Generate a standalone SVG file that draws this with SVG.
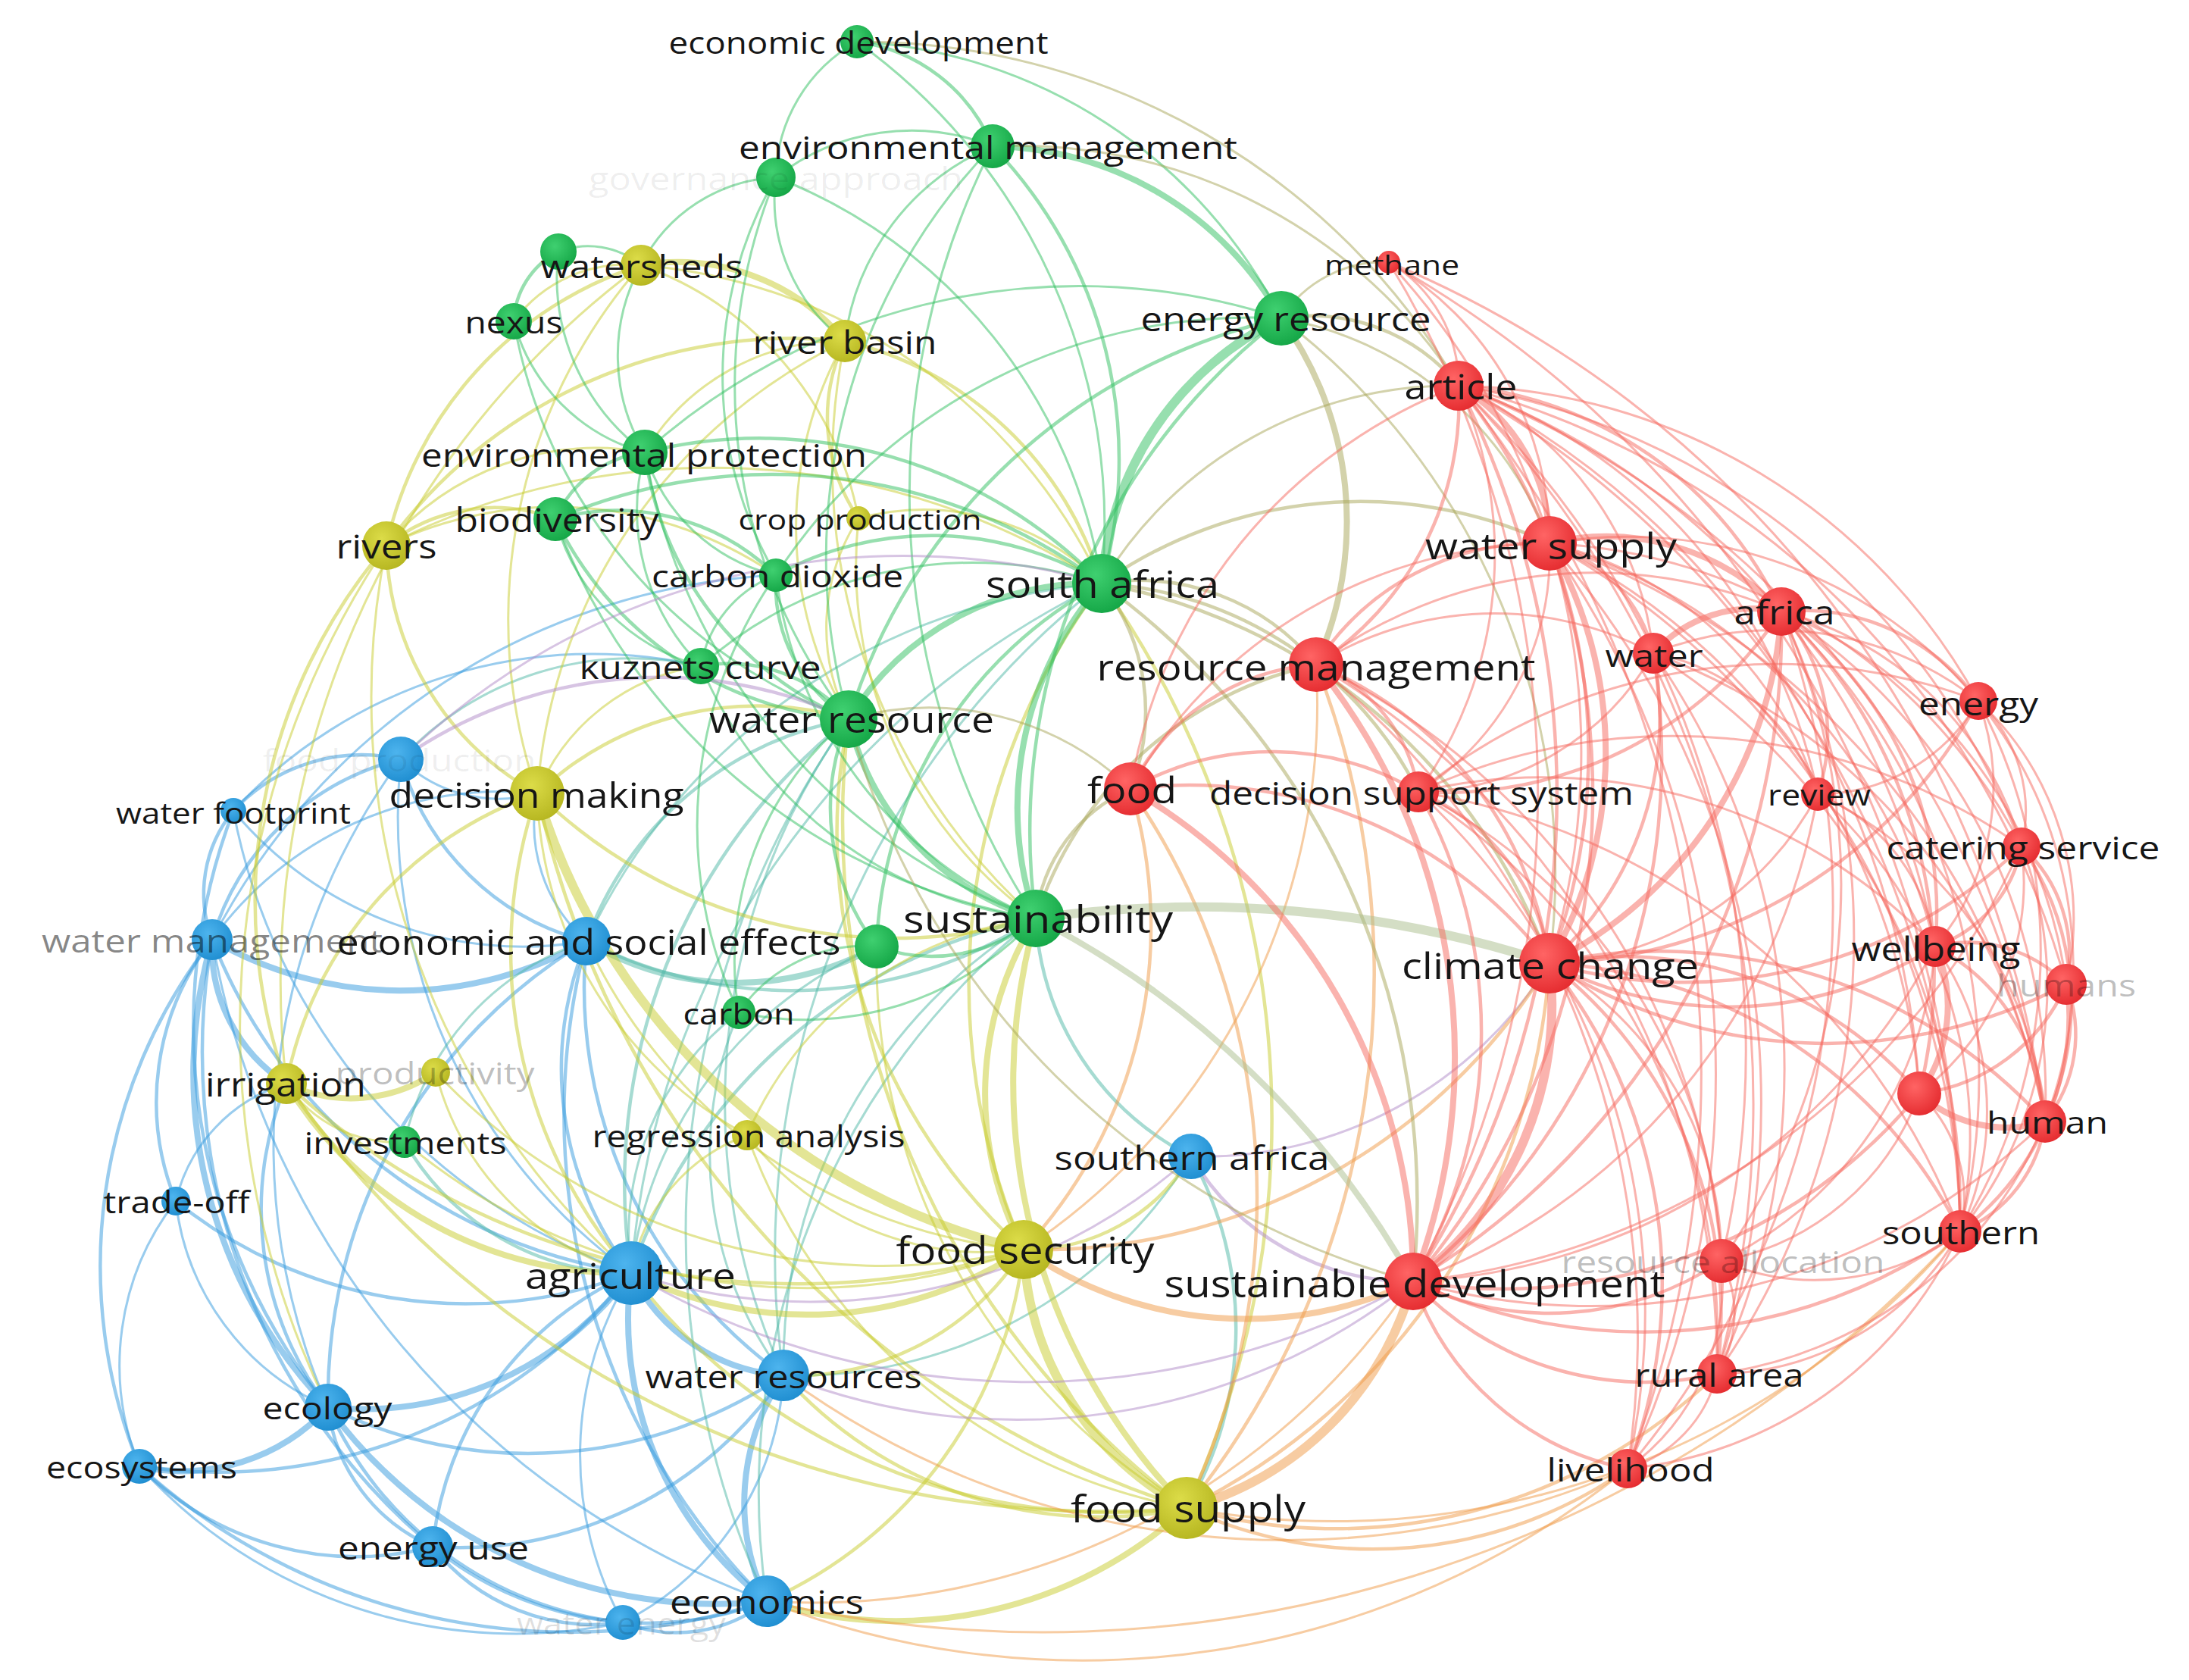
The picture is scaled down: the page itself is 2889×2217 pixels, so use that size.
<svg xmlns="http://www.w3.org/2000/svg" width="2889" height="2217" viewBox="0 0 2889 2217">
<defs>
<radialGradient id="gR" cx=".4" cy=".35" r=".7"><stop offset="0" stop-color="#ff6464"/><stop offset="1" stop-color="#e42a2e"/></radialGradient>
<radialGradient id="gG" cx=".4" cy=".35" r=".7"><stop offset="0" stop-color="#3fd070"/><stop offset="1" stop-color="#13a545"/></radialGradient>
<radialGradient id="gB" cx=".4" cy=".35" r=".7"><stop offset="0" stop-color="#4db4ee"/><stop offset="1" stop-color="#1e8dd0"/></radialGradient>
<radialGradient id="gY" cx=".4" cy=".35" r=".7"><stop offset="0" stop-color="#dcdc48"/><stop offset="1" stop-color="#b5b51f"/></radialGradient>
</defs>
<style>
#edges path{fill:none;stroke-linecap:round}
#edges g{stroke-opacity:.5}
.r{stroke:#f5675e}.m{stroke:#a8a557}.k{stroke:#a9bd8c}.o{stroke:#f09a45}.v{stroke:#b08ac8}.g{stroke:#2fbf5f}.y{stroke:#c8cc2c}.t{stroke:#4db8a5}.b{stroke:#3399dd}
.w1{stroke-width:3}.w2{stroke-width:4.5}.w3{stroke-width:8}.w4{stroke-width:12}
.nR{fill:url(#gR)}.nG{fill:url(#gG)}.nB{fill:url(#gB)}.nY{fill:url(#gY)}
text{font-family:"Open Sans","Noto Sans","DejaVu Sans",sans-serif;fill:#161616;text-anchor:middle;dominant-baseline:central}
.f1{fill:#000;fill-opacity:.07}.f2{fill:#000;fill-opacity:.48}.f3{fill:#000;fill-opacity:.27}.f4{fill:#000;fill-opacity:.13}
</style>
<rect width="2889" height="2217" fill="#fff"/>
<g id="edges">
<g class="b w1">
<path d="M774 1242A206 206 0 0 1 709 1047"/><path d="M280 1240A470 470 0 0 1 709 1047"/><path d="M709 1047A186 186 0 0 1 529 1002"/><path d="M232 1585A213 213 0 0 1 378 1430"/><path d="M833 1680A743 743 0 0 1 529 1002"/><path d="M433 1857A860 860 0 0 1 529 1002"/><path d="M833 1680A805 805 0 0 1 308 1070"/><path d="M774 1242A497 497 0 0 1 308 1070"/><path d="M1012 2113A1139 1139 0 0 1 280 1240"/><path d="M433 1857A338 338 0 0 1 232 1585"/><path d="M184 1935A353 353 0 0 1 232 1585"/><path d="M822 2141A461 461 0 0 1 833 1680"/><path d="M1034 1815A389 389 0 0 1 822 2141"/><path d="M822 2141A670 670 0 0 1 184 1935"/><path d="M280 1240A886 886 0 0 1 1024 759"/><path d="M308 1070A646 646 0 0 1 925 879"/>
</g>
<g class="b w2">
<path d="M433 1857A430 430 0 0 1 378 1430"/><path d="M308 1070A231 231 0 0 1 529 1002"/><path d="M280 1240A345 345 0 0 1 529 1002"/><path d="M774 1242A343 343 0 0 1 529 1002"/><path d="M280 1240A172 172 0 0 1 308 1070"/><path d="M433 1857A797 797 0 0 1 308 1070"/><path d="M833 1680A707 707 0 0 1 280 1240"/><path d="M232 1585A348 348 0 0 1 280 1240"/><path d="M184 1935A702 702 0 0 1 280 1240"/><path d="M571 2041A852 852 0 0 1 280 1240"/><path d="M833 1680A442 442 0 0 1 774 1242"/><path d="M1034 1815A629 629 0 0 1 774 1242"/><path d="M1012 2113A903 903 0 0 1 774 1242"/><path d="M433 1857A703 703 0 0 1 774 1242"/><path d="M833 1680A608 608 0 0 1 232 1585"/><path d="M833 1680A697 697 0 0 1 184 1935"/><path d="M571 2041A446 446 0 0 1 833 1680"/><path d="M1034 1815A602 602 0 0 1 433 1857"/><path d="M1034 1815A515 515 0 0 1 571 2041"/><path d="M571 2041A230 230 0 0 1 433 1857"/><path d="M822 2141A482 482 0 0 1 433 1857"/><path d="M571 2041A401 401 0 0 1 184 1935"/><path d="M1012 2113A847 847 0 0 1 184 1935"/><path d="M1012 2113A447 447 0 0 1 571 2041"/><path d="M822 2141A270 270 0 0 1 571 2041"/><path d="M1012 2113A192 192 0 0 1 822 2141"/>
</g>
<g class="b w3">
<path d="M378 1430A214 214 0 0 1 280 1240"/><path d="M774 1242A494 494 0 0 1 280 1240"/><path d="M433 1857A636 636 0 0 1 280 1240"/><path d="M1034 1815A242 242 0 0 1 833 1680"/><path d="M833 1680A437 437 0 0 1 433 1857"/><path d="M1012 2113A469 469 0 0 1 833 1680"/><path d="M1012 2113A299 299 0 0 1 1034 1815"/><path d="M433 1857A261 261 0 0 1 184 1935"/><path d="M1012 2113A633 633 0 0 1 433 1857"/>
</g>
<g class="t w1">
<path d="M529 1002A415 415 0 0 1 925 879"/><path d="M1034 1815A689 689 0 0 1 1367 1212"/><path d="M833 1680A539 539 0 0 1 1157 1249"/><path d="M1034 1815A483 483 0 0 1 975 1336"/><path d="M833 1680A372 372 0 0 1 975 1336"/><path d="M534 1507A358 358 0 0 1 774 1242"/><path d="M1572 1526A611 611 0 0 1 1034 1815"/><path d="M833 1680A1102 1102 0 0 1 1454 770"/><path d="M774 1242A828 828 0 0 1 1454 770"/><path d="M1034 1815A870 870 0 0 1 1120 949"/><path d="M1012 2113A1169 1169 0 0 1 1120 949"/><path d="M1034 1815A1126 1126 0 0 1 1454 770"/><path d="M1012 2113A968 968 0 0 1 1367 1212"/>
</g>
<g class="t w2">
<path d="M833 1680A785 785 0 0 1 1120 949"/><path d="M774 1242A453 453 0 0 1 1120 949"/><path d="M1572 1526A375 375 0 0 1 1367 1212"/><path d="M833 1680A710 710 0 0 1 1367 1212"/><path d="M1367 1212A594 594 0 0 1 774 1242"/><path d="M833 1680A345 345 0 0 1 534 1507"/><path d="M1572 1526A464 464 0 0 1 1566 1990"/>
</g>
<g class="t w3"><path d="M1157 1249A383 383 0 0 1 774 1242"/></g>
<g class="y w1">
<path d="M678 424A184 184 0 0 1 846 350"/><path d="M709 1047A710 710 0 0 1 846 350"/><path d="M846 350A739 739 0 0 1 1454 770"/><path d="M846 350A440 440 0 0 1 1133 684"/><path d="M851 597A302 302 0 0 1 1115 450"/><path d="M1367 1212A803 803 0 0 1 1115 450"/><path d="M1120 949A499 499 0 0 1 1115 450"/><path d="M709 1047A722 722 0 0 1 1115 450"/><path d="M510 720A362 362 0 0 1 851 597"/><path d="M1133 684A332 332 0 0 1 1454 770"/><path d="M1120 949A265 265 0 0 1 1133 684"/><path d="M1367 1212A577 577 0 0 1 1133 684"/><path d="M833 1680A1013 1013 0 0 1 510 720"/><path d="M510 720A945 945 0 0 1 1454 770"/><path d="M510 720A515 515 0 0 1 1024 759"/><path d="M709 1047A274 274 0 0 1 925 879"/><path d="M986 1498A476 476 0 0 1 1367 1212"/><path d="M1566 1990A846 846 0 0 1 1157 1249"/><path d="M534 1507A174 174 0 0 1 378 1430"/><path d="M1351 1649A829 829 0 0 1 534 1507"/><path d="M986 1498A530 530 0 0 1 709 1047"/><path d="M833 1680A370 370 0 0 1 575 1415"/><path d="M1351 1649A810 810 0 0 1 575 1415"/><path d="M833 1680A238 238 0 0 1 986 1498"/><path d="M1351 1649A395 395 0 0 1 986 1498"/><path d="M1566 1990A761 761 0 0 1 986 1498"/><path d="M1351 1649A706 706 0 0 1 774 1242"/><path d="M433 1857A1140 1140 0 0 1 510 720"/><path d="M378 1430A1177 1177 0 0 1 846 350"/>
</g>
<g class="y w2">
<path d="M510 720A500 500 0 0 1 846 350"/><path d="M1115 450A466 466 0 0 1 1454 770"/><path d="M1133 684A235 235 0 0 1 1115 450"/><path d="M510 720A662 662 0 0 1 1115 450"/><path d="M510 720A226 226 0 0 1 733 685"/><path d="M709 1047A383 383 0 0 1 510 720"/><path d="M378 1430A722 722 0 0 1 510 720"/><path d="M1351 1649A885 885 0 0 1 1454 770"/><path d="M1454 770A1225 1225 0 0 1 1566 1990"/><path d="M1351 1649A737 737 0 0 1 1120 949"/><path d="M1566 1990A1133 1133 0 0 1 1120 949"/><path d="M709 1047A423 423 0 0 1 1120 949"/><path d="M833 1680A645 645 0 0 1 709 1047"/><path d="M378 1430A506 506 0 0 1 709 1047"/><path d="M1566 1990A1274 1274 0 0 1 709 1047"/><path d="M1367 1212A678 678 0 0 1 709 1047"/><path d="M1351 1649A997 997 0 0 1 378 1430"/><path d="M1566 1990A1313 1313 0 0 1 378 1430"/><path d="M1351 1649A358 358 0 0 1 1034 1815"/><path d="M1572 1526A253 253 0 0 1 1351 1649"/><path d="M1351 1649A575 575 0 0 1 1012 2113"/><path d="M1566 1990A796 796 0 0 1 833 1680"/><path d="M1566 1990A560 560 0 0 1 1034 1815"/>
</g>
<g class="y w3">
<path d="M846 350A287 287 0 0 1 1115 450"/><path d="M1351 1649A437 437 0 0 1 1367 1212"/><path d="M1566 1990A803 803 0 0 1 1367 1212"/><path d="M833 1680A519 519 0 0 1 378 1430"/><path d="M575 1415A198 198 0 0 1 378 1430"/><path d="M1351 1649A519 519 0 0 1 833 1680"/><path d="M1566 1990A568 568 0 0 1 1012 2113"/>
</g>
<g class="y w4"><path d="M1351 1649A880 880 0 0 1 709 1047"/><path d="M1566 1990A403 403 0 0 1 1351 1649"/></g>
<g class="g w1">
<path d="M1024 234A209 209 0 0 1 1131 55"/><path d="M1131 55A785 785 0 0 1 1454 770"/><path d="M1131 55A668 668 0 0 1 1691 420"/><path d="M1115 450A323 323 0 0 1 1310 193"/><path d="M1120 949A780 780 0 0 1 1310 193"/><path d="M1367 1212A1020 1020 0 0 1 1310 193"/><path d="M1024 234A289 289 0 0 1 1310 193"/><path d="M1024 234A687 687 0 0 1 1454 770"/><path d="M1024 759A525 525 0 0 1 1024 234"/><path d="M846 350A212 212 0 0 1 1024 234"/><path d="M1115 450A234 234 0 0 1 1024 234"/><path d="M1120 949A721 721 0 0 1 1024 234"/><path d="M737 332A110 110 0 0 1 846 350"/><path d="M851 597A288 288 0 0 1 737 332"/><path d="M851 597A247 247 0 0 1 846 350"/><path d="M851 597A245 245 0 0 1 678 424"/><path d="M1120 949A686 686 0 0 1 678 424"/><path d="M1024 759A748 748 0 0 1 1691 420"/><path d="M851 597A858 858 0 0 1 1691 420"/><path d="M1024 759A237 237 0 0 1 851 597"/><path d="M1367 1212A803 803 0 0 1 851 597"/><path d="M925 879A292 292 0 0 1 851 597"/><path d="M1367 1212A824 824 0 0 1 733 685"/><path d="M925 879A273 273 0 0 1 733 685"/><path d="M925 879A156 156 0 0 1 1024 759"/><path d="M1367 1212A568 568 0 0 1 1024 759"/><path d="M975 1336A579 579 0 0 1 1024 759"/><path d="M925 879A540 540 0 0 1 1454 770"/><path d="M1367 1212A553 553 0 0 1 925 879"/><path d="M975 1336A413 413 0 0 1 1120 949"/><path d="M1367 1212A411 411 0 0 1 975 1336"/><path d="M975 1336A202 202 0 0 1 1157 1249"/>
</g>
<g class="g w2">
<path d="M1131 55A226 226 0 0 1 1310 193"/><path d="M1310 193A595 595 0 0 1 1454 770"/><path d="M678 424A109 109 0 0 1 737 332"/><path d="M1367 1212A856 856 0 0 1 1691 420"/><path d="M1120 949A778 778 0 0 1 1691 420"/><path d="M733 685A147 147 0 0 1 851 597"/><path d="M851 597A627 627 0 0 1 1454 770"/><path d="M1120 949A443 443 0 0 1 851 597"/><path d="M733 685A300 300 0 0 1 1024 759"/><path d="M733 685A726 726 0 0 1 1454 770"/><path d="M1120 949A468 468 0 0 1 733 685"/><path d="M1024 759A430 430 0 0 1 1454 770"/><path d="M1120 949A213 213 0 0 1 1024 759"/><path d="M1157 1249A564 564 0 0 1 1454 770"/><path d="M925 879A207 207 0 0 1 1120 949"/><path d="M1157 1249A302 302 0 0 1 1120 949"/><path d="M1367 1212A213 213 0 0 1 1157 1249"/>
</g>
<g class="g w3">
<path d="M1310 193A443 443 0 0 1 1691 420"/><path d="M1120 949A379 379 0 0 1 1454 770"/><path d="M1367 1212A450 450 0 0 1 1454 770"/><path d="M1367 1212A361 361 0 0 1 1120 949"/>
</g>
<g class="g w4"><path d="M1454 770A423 423 0 0 1 1691 420"/></g>
<g class="v w1">
<path d="M2045 1271A537 537 0 0 1 1572 1526"/><path d="M1865 1691A1032 1032 0 0 1 833 1680"/><path d="M1865 1691A840 840 0 0 1 1034 1815"/><path d="M1572 1526A755 755 0 0 1 833 1680"/><path d="M529 1002A954 954 0 0 1 1454 770"/>
</g>
<g class="v w2"><path d="M1865 1691A336 336 0 0 1 1572 1526"/><path d="M529 1002A593 593 0 0 1 1120 949"/></g>
<g class="o w1">
<path d="M1737 877A863 863 0 0 1 1351 1649"/><path d="M2587 1625A1084 1084 0 0 1 1566 1990"/><path d="M1865 1691A952 952 0 0 1 1012 2113"/><path d="M2148 1938A1149 1149 0 0 1 1012 2113"/><path d="M2587 1625A1649 1649 0 0 1 1012 2113"/><path d="M2148 1938A1121 1121 0 0 1 1034 1815"/>
</g>
<g class="o w2">
<path d="M1737 877A1126 1126 0 0 1 1566 1990"/><path d="M2045 1271A790 790 0 0 1 1351 1649"/><path d="M2045 1271A864 864 0 0 1 1566 1990"/><path d="M2266 1813A722 722 0 0 1 1566 1990"/><path d="M2148 1938A584 584 0 0 1 1566 1990"/><path d="M1492 1041A624 624 0 0 1 1351 1649"/><path d="M1492 1041A952 952 0 0 1 1566 1990"/>
</g>
<g class="o w3"><path d="M1865 1691A516 516 0 0 1 1351 1649"/></g>
<g class="o w4"><path d="M1865 1691A423 423 0 0 1 1566 1990"/></g>
<g class="m w1">
<path d="M1454 770A538 538 0 0 1 1925 509"/><path d="M1691 420A160 160 0 0 1 1833 346"/><path d="M1691 420A462 462 0 0 1 2045 717"/><path d="M1120 949A383 383 0 0 1 1492 1041"/><path d="M1131 55A915 915 0 0 1 1925 509"/><path d="M1310 193A691 691 0 0 1 1925 509"/><path d="M1691 420A922 922 0 0 1 2045 1271"/><path d="M1865 1691A1052 1052 0 0 1 1120 949"/>
</g>
<g class="m w2">
<path d="M1691 420A250 250 0 0 1 1925 509"/><path d="M1454 770A593 593 0 0 1 2045 717"/><path d="M1454 770A302 302 0 0 1 1737 877"/><path d="M1367 1212A499 499 0 0 1 1737 877"/><path d="M1454 770A775 775 0 0 1 2045 1271"/><path d="M1454 770A1009 1009 0 0 1 1865 1691"/><path d="M1454 770A274 274 0 0 1 1492 1041"/><path d="M1367 1212A212 212 0 0 1 1492 1041"/><path d="M1454 770A500 500 0 0 1 1872 1045"/>
</g>
<g class="m w3"><path d="M1691 420A459 459 0 0 1 1737 877"/></g>
<g class="k w3"><path d="M1367 1212A1200 1200 0 0 1 1865 1691"/></g>
<g class="k w4"><path d="M1367 1212A1500 1500 0 0 1 2045 1271"/></g>
<g class="r w1">
<path d="M1833 346A187 187 0 0 1 1925 509"/><path d="M1925 509A437 437 0 0 1 2182 862"/><path d="M1925 509A539 539 0 0 1 1872 1045"/><path d="M1492 1041A686 686 0 0 1 1925 509"/><path d="M1925 509A802 802 0 0 1 2611 925"/><path d="M1925 509A718 718 0 0 1 2399 1048"/><path d="M1925 509A960 960 0 0 1 2668 1117"/><path d="M1925 509A971 971 0 0 1 2554 1249"/><path d="M1925 509A1126 1126 0 0 1 2727 1299"/><path d="M1925 509A1242 1242 0 0 1 2699 1480"/><path d="M1925 509A1298 1298 0 0 1 2587 1625"/><path d="M1925 509A1114 1114 0 0 1 2533 1443"/><path d="M1925 509A1206 1206 0 0 1 2272 1664"/><path d="M1925 509A1348 1348 0 0 1 2266 1813"/><path d="M1925 509A1446 1446 0 0 1 2148 1938"/>
<path d="M1833 346A427 427 0 0 1 2045 717"/><path d="M1833 346A949 949 0 0 1 2045 1271"/><path d="M1833 346A1345 1345 0 0 1 1865 1691"/><path d="M1833 346A1485 1485 0 0 1 2587 1625"/><path d="M1833 346A1427 1427 0 0 1 2699 1480"/>
<path d="M2045 717A371 371 0 0 1 1872 1045"/><path d="M1492 1041A641 641 0 0 1 2045 717"/><path d="M2045 717A603 603 0 0 1 2611 925"/><path d="M2045 717A485 485 0 0 1 2399 1048"/><path d="M2045 717A740 740 0 0 1 2668 1117"/><path d="M2045 717A736 736 0 0 1 2554 1249"/><path d="M2045 717A1005 1005 0 0 1 2699 1480"/><path d="M2045 717A1057 1057 0 0 1 2587 1625"/><path d="M2045 717A1118 1118 0 0 1 2266 1813"/><path d="M2045 717A1225 1225 0 0 1 2148 1938"/><path d="M2045 717A875 875 0 0 1 2533 1443"/>
<path d="M1737 877A618 618 0 0 1 2351 807"/><path d="M2351 807A443 443 0 0 1 2668 1117"/><path d="M2351 807A619 619 0 0 1 2727 1299"/><path d="M2351 807A758 758 0 0 1 2699 1480"/><path d="M2351 807A851 851 0 0 1 2587 1625"/><path d="M2351 807A861 861 0 0 1 2272 1664"/><path d="M2351 807A1010 1010 0 0 1 2266 1813"/><path d="M2351 807A1149 1149 0 0 1 2148 1938"/>
<path d="M2182 862A360 360 0 0 1 1872 1045"/><path d="M1737 877A445 445 0 0 1 2182 862"/><path d="M2182 862A434 434 0 0 1 2611 925"/><path d="M2182 862A286 286 0 0 1 2399 1048"/><path d="M2182 862A864 864 0 0 1 2587 1625"/><path d="M2182 862A806 806 0 0 1 2699 1480"/><path d="M2182 862A955 955 0 0 1 2266 1813"/>
<path d="M1737 877A952 952 0 0 1 2272 1664"/><path d="M1737 877A1138 1138 0 0 1 2148 1938"/><path d="M1737 877A1075 1075 0 0 1 2266 1813"/>
<path d="M2611 925A200 200 0 0 1 2668 1117"/><path d="M2611 925A329 329 0 0 1 2554 1249"/><path d="M2611 925A392 392 0 0 1 2727 1299"/><path d="M2611 925A562 562 0 0 1 2699 1480"/><path d="M1872 1045A749 749 0 0 1 2611 925"/><path d="M2611 925A700 700 0 0 1 2587 1625"/><path d="M2611 925A245 245 0 0 1 2399 1048"/>
<path d="M1872 1045A712 712 0 0 1 2554 1249"/><path d="M1872 1045A921 921 0 0 1 2587 1625"/><path d="M1872 1045A863 863 0 0 1 2266 1813"/><path d="M1872 1045A935 935 0 0 1 2148 1938"/><path d="M1872 1045A737 737 0 0 1 2272 1664"/><path d="M1872 1045A800 800 0 0 1 2668 1117"/>
<path d="M2399 1048A418 418 0 0 1 2045 1271"/><path d="M2399 1048A254 254 0 0 1 2554 1249"/><path d="M2399 1048A607 607 0 0 1 2587 1625"/><path d="M2399 1048A526 526 0 0 1 2699 1480"/><path d="M2399 1048A836 836 0 0 1 1865 1691"/>
<path d="M2668 1117A514 514 0 0 1 2587 1625"/><path d="M2668 1117A987 987 0 0 1 1865 1691"/><path d="M2668 1117A353 353 0 0 1 2533 1443"/><path d="M2045 1271A454 454 0 0 1 2272 1664"/>
<path d="M2554 1249A377 377 0 0 1 2587 1625"/><path d="M2554 1249A818 818 0 0 1 1865 1691"/><path d="M2554 1249A501 501 0 0 1 2272 1664"/><path d="M2533 1443A190 190 0 0 1 2587 1625"/><path d="M2533 1443A342 342 0 0 1 2272 1664"/><path d="M2699 1480A860 860 0 0 1 1865 1691"/><path d="M2699 1480A546 546 0 0 1 2266 1813"/><path d="M2587 1625A317 317 0 0 1 2272 1664"/><path d="M2587 1625A372 372 0 0 1 2266 1813"/><path d="M2587 1625A539 539 0 0 1 2148 1938"/><path d="M2272 1664A149 149 0 0 1 2266 1813"/><path d="M2272 1664A301 301 0 0 1 2148 1938"/><path d="M2266 1813A172 172 0 0 1 2148 1938"/>
</g>
<g class="r w2">
<path d="M1925 509A520 520 0 0 1 2351 807"/><path d="M1925 509A413 413 0 0 1 1737 877"/><path d="M1925 509A771 771 0 0 1 2045 1271"/><path d="M1925 509A1184 1184 0 0 1 1865 1691"/><path d="M2045 717A200 200 0 0 1 2182 862"/><path d="M1737 877A347 347 0 0 1 2045 717"/><path d="M2045 717A990 990 0 0 1 1865 1691"/><path d="M2351 807A1009 1009 0 0 1 1865 1691"/><path d="M2351 807A535 535 0 0 1 1872 1045"/><path d="M2351 807A286 286 0 0 1 2611 925"/><path d="M2351 807A246 246 0 0 1 2399 1048"/><path d="M2351 807A486 486 0 0 1 2554 1249"/><path d="M2351 807A662 662 0 0 1 2533 1443"/><path d="M2182 862A431 431 0 0 1 2045 1271"/><path d="M2182 862A888 888 0 0 1 1865 1691"/><path d="M1737 877A500 500 0 0 1 2045 1271"/><path d="M1737 877A215 215 0 0 1 1872 1045"/><path d="M1492 1041A295 295 0 0 1 1737 877"/><path d="M2611 925A663 663 0 0 1 2045 1271"/><path d="M1872 1045A285 285 0 0 1 2045 1271"/><path d="M1872 1045A646 646 0 0 1 1865 1691"/><path d="M1492 1041A380 380 0 0 1 1872 1045"/><path d="M2668 1117A642 642 0 0 1 2045 1271"/><path d="M2668 1117A174 174 0 0 1 2554 1249"/><path d="M2668 1117A191 191 0 0 1 2727 1299"/><path d="M2668 1117A364 364 0 0 1 2699 1480"/><path d="M2554 1249A509 509 0 0 1 2045 1271"/><path d="M2727 1299A683 683 0 0 1 2045 1271"/><path d="M2045 1271A687 687 0 0 1 2699 1480"/><path d="M2045 1271A647 647 0 0 1 2587 1625"/><path d="M2045 1271A517 517 0 0 1 2533 1443"/><path d="M2045 1271A585 585 0 0 1 2266 1813"/><path d="M2045 1271A675 675 0 0 1 2148 1938"/><path d="M1492 1041A599 599 0 0 1 2045 1271"/><path d="M2554 1249A180 180 0 0 1 2727 1299"/><path d="M2554 1249A273 273 0 0 1 2699 1480"/><path d="M2727 1299A183 183 0 0 1 2699 1480"/><path d="M2727 1299A355 355 0 0 1 2587 1625"/><path d="M2727 1299A242 242 0 0 1 2533 1443"/><path d="M2533 1443A713 713 0 0 1 1865 1691"/><path d="M2699 1480A183 183 0 0 1 2587 1625"/><path d="M2587 1625A725 725 0 0 1 1865 1691"/><path d="M2272 1664A408 408 0 0 1 1865 1691"/><path d="M2266 1813A419 419 0 0 1 1865 1691"/><path d="M2148 1938A376 376 0 0 1 1865 1691"/>
</g>
<g class="r w3">
<path d="M1925 509A240 240 0 0 1 2045 717"/><path d="M2045 717A319 319 0 0 1 2351 807"/><path d="M2045 717A554 554 0 0 1 2045 1271"/><path d="M2182 862A178 178 0 0 1 2351 807"/><path d="M2351 807A556 556 0 0 1 2045 1271"/><path d="M1737 877A824 824 0 0 1 1865 1691"/><path d="M2554 1249A195 195 0 0 1 2533 1443"/><path d="M2699 1480A170 170 0 0 1 2533 1443"/><path d="M1492 1041A749 749 0 0 1 1865 1691"/>
</g>
<g class="r w4"><path d="M2045 1271A457 457 0 0 1 1865 1691"/></g>
</g>
<g id="n-governance-approach"><circle cx="1024" cy="234" r="26" class="nG"/><text x="1024" y="234" font-size="42" textLength="494" lengthAdjust="spacingAndGlyphs" class="f1">governance approach</text></g>
<g id="n-food-production"><circle cx="529" cy="1002" r="30" class="nB"/><text x="527" y="1002" font-size="41" textLength="361" lengthAdjust="spacingAndGlyphs" class="f1">food production</text></g>
<g id="n-water-management"><circle cx="280" cy="1240" r="27" class="nB"/><text x="280" y="1240" font-size="42" textLength="450" lengthAdjust="spacingAndGlyphs" class="f2">water management</text></g>
<g id="n-productivity"><circle cx="575" cy="1415" r="19" class="nY"/><text x="574" y="1415" font-size="40" textLength="263" lengthAdjust="spacingAndGlyphs" class="f3">productivity</text></g>
<g id="n-humans"><circle cx="2727" cy="1299" r="27" class="nR"/><text x="2727" y="1299" font-size="41" textLength="184" lengthAdjust="spacingAndGlyphs" class="f3">humans</text></g>
<g id="n-resource-allocation"><circle cx="2272" cy="1664" r="29" class="nR"/><text x="2274" y="1664" font-size="41" textLength="427" lengthAdjust="spacingAndGlyphs" class="f3">resource allocation</text></g>
<g id="n-water-energy"><circle cx="822" cy="2141" r="23" class="nB"/><text x="820" y="2141" font-size="40" textLength="276" lengthAdjust="spacingAndGlyphs" class="f4">water energy</text></g>
<g id="n-green-1"><circle cx="737" cy="332" r="24" class="nG"/></g>
<g id="n-green-2"><circle cx="1157" cy="1249" r="29" class="nG"/></g>
<g id="n-red-1"><circle cx="2533" cy="1443" r="29" class="nR"/></g>
<g id="n-economic-development"><circle cx="1131" cy="55" r="22" class="nG"/><text x="1133" y="55" font-size="40" textLength="501" lengthAdjust="spacingAndGlyphs">economic development</text></g>
<g id="n-environmental-management"><circle cx="1310" cy="193" r="29" class="nG"/><text x="1304" y="193" font-size="42" textLength="658" lengthAdjust="spacingAndGlyphs">environmental management</text></g>
<g id="n-watersheds"><circle cx="846" cy="350" r="27" class="nY"/><text x="847" y="350" font-size="42" textLength="267" lengthAdjust="spacingAndGlyphs">watersheds</text></g>
<g id="n-nexus"><circle cx="678" cy="424" r="24" class="nG"/><text x="678" y="424" font-size="40" textLength="129" lengthAdjust="spacingAndGlyphs">nexus</text></g>
<g id="n-river-basin"><circle cx="1115" cy="450" r="28" class="nY"/><text x="1115" y="450" font-size="42" textLength="243" lengthAdjust="spacingAndGlyphs">river basin</text></g>
<g id="n-energy-resource"><circle cx="1691" cy="420" r="36" class="nG"/><text x="1697" y="420" font-size="43" textLength="383" lengthAdjust="spacingAndGlyphs">energy resource</text></g>
<g id="n-methane"><circle cx="1833" cy="346" r="15" class="nR"/><text x="1837" y="348" font-size="37" textLength="178" lengthAdjust="spacingAndGlyphs">methane</text></g>
<g id="n-article"><circle cx="1925" cy="509" r="33" class="nR"/><text x="1928" y="509" font-size="45" textLength="149" lengthAdjust="spacingAndGlyphs">article</text></g>
<g id="n-environmental-protection"><circle cx="851" cy="597" r="30" class="nG"/><text x="850" y="599" font-size="42" textLength="588" lengthAdjust="spacingAndGlyphs">environmental protection</text></g>
<g id="n-biodiversity"><circle cx="733" cy="685" r="29" class="nG"/><text x="735" y="685" font-size="43" textLength="269" lengthAdjust="spacingAndGlyphs">biodiversity</text></g>
<g id="n-crop-production"><circle cx="1133" cy="684" r="16" class="nY"/><text x="1135" y="684" font-size="37" textLength="321" lengthAdjust="spacingAndGlyphs">crop production</text></g>
<g id="n-rivers"><circle cx="510" cy="720" r="32" class="nY"/><text x="510" y="720" font-size="44" textLength="133" lengthAdjust="spacingAndGlyphs">rivers</text></g>
<g id="n-carbon-dioxide"><circle cx="1024" cy="759" r="22" class="nG"/><text x="1026" y="759" font-size="41" textLength="332" lengthAdjust="spacingAndGlyphs">carbon dioxide</text></g>
<g id="n-south-africa"><circle cx="1454" cy="770" r="39" class="nG"/><text x="1455" y="770" font-size="49" textLength="308" lengthAdjust="spacingAndGlyphs">south africa</text></g>
<g id="n-water-supply"><circle cx="2045" cy="717" r="36" class="nR"/><text x="2047" y="719" font-size="48" textLength="332" lengthAdjust="spacingAndGlyphs">water supply</text></g>
<g id="n-africa"><circle cx="2351" cy="807" r="32" class="nR"/><text x="2355" y="807" font-size="44" textLength="133" lengthAdjust="spacingAndGlyphs">africa</text></g>
<g id="n-kuznets-curve"><circle cx="925" cy="879" r="24" class="nG"/><text x="924" y="879" font-size="42" textLength="319" lengthAdjust="spacingAndGlyphs">kuznets curve</text></g>
<g id="n-resource-management"><circle cx="1737" cy="877" r="36" class="nR"/><text x="1737" y="879" font-size="48" textLength="579" lengthAdjust="spacingAndGlyphs">resource management</text></g>
<g id="n-water"><circle cx="2182" cy="862" r="27" class="nR"/><text x="2183" y="864" font-size="41" textLength="129" lengthAdjust="spacingAndGlyphs">water</text></g>
<g id="n-water-resource"><circle cx="1120" cy="949" r="38" class="nG"/><text x="1124" y="949" font-size="47" textLength="376" lengthAdjust="spacingAndGlyphs">water resource</text></g>
<g id="n-energy"><circle cx="2611" cy="925" r="25" class="nR"/><text x="2611" y="927" font-size="42" textLength="158" lengthAdjust="spacingAndGlyphs">energy</text></g>
<g id="n-decision-making"><circle cx="709" cy="1047" r="36" class="nY"/><text x="708" y="1048" font-size="45" textLength="389" lengthAdjust="spacingAndGlyphs">decision making</text></g>
<g id="n-water-footprint"><circle cx="308" cy="1070" r="17" class="nB"/><text x="308" y="1072" font-size="38" textLength="310" lengthAdjust="spacingAndGlyphs">water footprint</text></g>
<g id="n-food"><circle cx="1492" cy="1041" r="35" class="nR"/><text x="1494" y="1041" font-size="48" textLength="118" lengthAdjust="spacingAndGlyphs">food</text></g>
<g id="n-decision-support-system"><circle cx="1872" cy="1045" r="27" class="nR"/><text x="1876" y="1045" font-size="42" textLength="560" lengthAdjust="spacingAndGlyphs">decision support system</text></g>
<g id="n-review"><circle cx="2399" cy="1048" r="22" class="nR"/><text x="2401" y="1048" font-size="38" textLength="136" lengthAdjust="spacingAndGlyphs">review</text></g>
<g id="n-catering-service"><circle cx="2668" cy="1117" r="25" class="nR"/><text x="2670" y="1117" font-size="42" textLength="361" lengthAdjust="spacingAndGlyphs">catering service</text></g>
<g id="n-economic-and-social-effects"><circle cx="774" cy="1242" r="32" class="nB"/><text x="777" y="1242" font-size="45" textLength="665" lengthAdjust="spacingAndGlyphs">economic and social effects</text></g>
<g id="n-sustainability"><circle cx="1367" cy="1212" r="38" class="nG"/><text x="1370" y="1212" font-size="49" textLength="356" lengthAdjust="spacingAndGlyphs">sustainability</text></g>
<g id="n-climate-change"><circle cx="2045" cy="1271" r="40" class="nR"/><text x="2046" y="1273" font-size="48" textLength="392" lengthAdjust="spacingAndGlyphs">climate change</text></g>
<g id="n-wellbeing"><circle cx="2554" cy="1249" r="27" class="nR"/><text x="2555" y="1251" font-size="43" textLength="223" lengthAdjust="spacingAndGlyphs">wellbeing</text></g>
<g id="n-carbon"><circle cx="975" cy="1336" r="22" class="nG"/><text x="975" y="1336" font-size="39" textLength="147" lengthAdjust="spacingAndGlyphs">carbon</text></g>
<g id="n-irrigation"><circle cx="378" cy="1430" r="27" class="nY"/><text x="377" y="1430" font-size="43" textLength="212" lengthAdjust="spacingAndGlyphs">irrigation</text></g>
<g id="n-investments"><circle cx="534" cy="1507" r="21" class="nG"/><text x="535" y="1507" font-size="40" textLength="267" lengthAdjust="spacingAndGlyphs">investments</text></g>
<g id="n-regression-analysis"><circle cx="986" cy="1498" r="20" class="nY"/><text x="988" y="1498" font-size="40" textLength="413" lengthAdjust="spacingAndGlyphs">regression analysis</text></g>
<g id="n-southern-africa"><circle cx="1572" cy="1526" r="30" class="nB"/><text x="1573" y="1527" font-size="44" textLength="363" lengthAdjust="spacingAndGlyphs">southern africa</text></g>
<g id="n-human"><circle cx="2699" cy="1480" r="28" class="nR"/><text x="2702" y="1480" font-size="41" textLength="160" lengthAdjust="spacingAndGlyphs">human</text></g>
<g id="n-trade-off"><circle cx="232" cy="1585" r="19" class="nB"/><text x="233" y="1585" font-size="40" textLength="193" lengthAdjust="spacingAndGlyphs">trade-off</text></g>
<g id="n-southern"><circle cx="2587" cy="1625" r="28" class="nR"/><text x="2588" y="1625" font-size="42" textLength="208" lengthAdjust="spacingAndGlyphs">southern</text></g>
<g id="n-food-security"><circle cx="1351" cy="1649" r="39" class="nY"/><text x="1353" y="1649" font-size="49" textLength="341" lengthAdjust="spacingAndGlyphs">food security</text></g>
<g id="n-agriculture"><circle cx="833" cy="1680" r="42" class="nB"/><text x="832" y="1682" font-size="48" textLength="278" lengthAdjust="spacingAndGlyphs">agriculture</text></g>
<g id="n-sustainable-development"><circle cx="1865" cy="1691" r="38" class="nR"/><text x="1867" y="1693" font-size="49" textLength="661" lengthAdjust="spacingAndGlyphs">sustainable development</text></g>
<g id="n-water-resources"><circle cx="1034" cy="1815" r="34" class="nB"/><text x="1034" y="1815" font-size="42" textLength="365" lengthAdjust="spacingAndGlyphs">water resources</text></g>
<g id="n-rural-area"><circle cx="2266" cy="1813" r="26" class="nR"/><text x="2269" y="1813" font-size="42" textLength="223" lengthAdjust="spacingAndGlyphs">rural area</text></g>
<g id="n-ecology"><circle cx="433" cy="1857" r="31" class="nB"/><text x="432" y="1857" font-size="41" textLength="171" lengthAdjust="spacingAndGlyphs">ecology</text></g>
<g id="n-ecosystems"><circle cx="184" cy="1935" r="23" class="nB"/><text x="187" y="1935" font-size="40" textLength="252" lengthAdjust="spacingAndGlyphs">ecosystems</text></g>
<g id="n-livelihood"><circle cx="2148" cy="1938" r="26" class="nR"/><text x="2152" y="1938" font-size="42" textLength="221" lengthAdjust="spacingAndGlyphs">livelihood</text></g>
<g id="n-food-supply"><circle cx="1566" cy="1990" r="41" class="nY"/><text x="1568" y="1990" font-size="49" textLength="310" lengthAdjust="spacingAndGlyphs">food supply</text></g>
<g id="n-energy-use"><circle cx="571" cy="2041" r="27" class="nB"/><text x="572" y="2041" font-size="42" textLength="252" lengthAdjust="spacingAndGlyphs">energy use</text></g>
<g id="n-economics"><circle cx="1012" cy="2113" r="34" class="nB"/><text x="1012" y="2113" font-size="44" textLength="256" lengthAdjust="spacingAndGlyphs">economics</text></g>
</svg>
